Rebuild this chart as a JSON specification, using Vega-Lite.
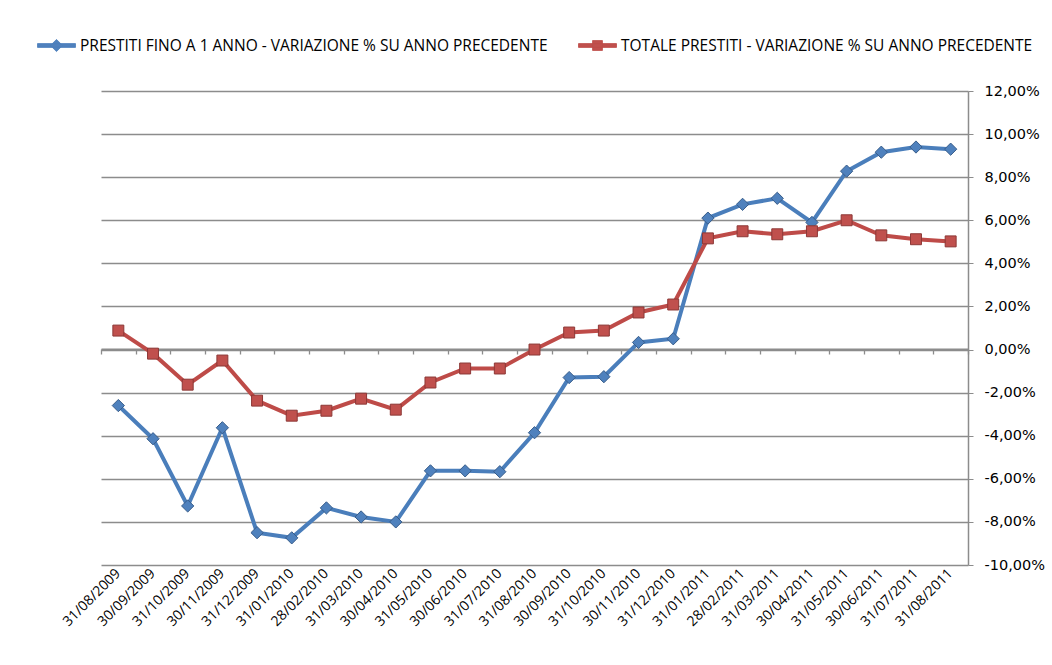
{
  "$schema": "https://vega.github.io/schema/vega-lite/v6.json",
  "width": 867,
  "height": 474,
  "autosize": {"type": "none"},
  "padding": {"left": 101, "top": 91, "right": 84, "bottom": 100},
  "background": "white",
  "config": {
    "view": {"stroke": null},
    "axis": {"labelColor": "black", "titleColor": "black"}
  },
  "datasets": {
    "main": [
      {"date": "31/08/2009", "serie": "PRESTITI FINO A 1 ANNO - VARIAZIONE % SU ANNO PRECEDENTE", "value": -2.6},
      {"date": "31/08/2009", "serie": "TOTALE PRESTITI - VARIAZIONE % SU ANNO PRECEDENTE", "value": 0.88},
      {"date": "30/09/2009", "serie": "PRESTITI FINO A 1 ANNO - VARIAZIONE % SU ANNO PRECEDENTE", "value": -4.14},
      {"date": "30/09/2009", "serie": "TOTALE PRESTITI - VARIAZIONE % SU ANNO PRECEDENTE", "value": -0.19},
      {"date": "31/10/2009", "serie": "PRESTITI FINO A 1 ANNO - VARIAZIONE % SU ANNO PRECEDENTE", "value": -7.26},
      {"date": "31/10/2009", "serie": "TOTALE PRESTITI - VARIAZIONE % SU ANNO PRECEDENTE", "value": -1.63},
      {"date": "30/11/2009", "serie": "PRESTITI FINO A 1 ANNO - VARIAZIONE % SU ANNO PRECEDENTE", "value": -3.63},
      {"date": "30/11/2009", "serie": "TOTALE PRESTITI - VARIAZIONE % SU ANNO PRECEDENTE", "value": -0.51},
      {"date": "31/12/2009", "serie": "PRESTITI FINO A 1 ANNO - VARIAZIONE % SU ANNO PRECEDENTE", "value": -8.5},
      {"date": "31/12/2009", "serie": "TOTALE PRESTITI - VARIAZIONE % SU ANNO PRECEDENTE", "value": -2.37},
      {"date": "31/01/2010", "serie": "PRESTITI FINO A 1 ANNO - VARIAZIONE % SU ANNO PRECEDENTE", "value": -8.74},
      {"date": "31/01/2010", "serie": "TOTALE PRESTITI - VARIAZIONE % SU ANNO PRECEDENTE", "value": -3.07},
      {"date": "28/02/2010", "serie": "PRESTITI FINO A 1 ANNO - VARIAZIONE % SU ANNO PRECEDENTE", "value": -7.35},
      {"date": "28/02/2010", "serie": "TOTALE PRESTITI - VARIAZIONE % SU ANNO PRECEDENTE", "value": -2.84},
      {"date": "31/03/2010", "serie": "PRESTITI FINO A 1 ANNO - VARIAZIONE % SU ANNO PRECEDENTE", "value": -7.77},
      {"date": "31/03/2010", "serie": "TOTALE PRESTITI - VARIAZIONE % SU ANNO PRECEDENTE", "value": -2.28},
      {"date": "30/04/2010", "serie": "PRESTITI FINO A 1 ANNO - VARIAZIONE % SU ANNO PRECEDENTE", "value": -8.0},
      {"date": "30/04/2010", "serie": "TOTALE PRESTITI - VARIAZIONE % SU ANNO PRECEDENTE", "value": -2.79},
      {"date": "31/05/2010", "serie": "PRESTITI FINO A 1 ANNO - VARIAZIONE % SU ANNO PRECEDENTE", "value": -5.63},
      {"date": "31/05/2010", "serie": "TOTALE PRESTITI - VARIAZIONE % SU ANNO PRECEDENTE", "value": -1.53},
      {"date": "30/06/2010", "serie": "PRESTITI FINO A 1 ANNO - VARIAZIONE % SU ANNO PRECEDENTE", "value": -5.63},
      {"date": "30/06/2010", "serie": "TOTALE PRESTITI - VARIAZIONE % SU ANNO PRECEDENTE", "value": -0.88},
      {"date": "31/07/2010", "serie": "PRESTITI FINO A 1 ANNO - VARIAZIONE % SU ANNO PRECEDENTE", "value": -5.67},
      {"date": "31/07/2010", "serie": "TOTALE PRESTITI - VARIAZIONE % SU ANNO PRECEDENTE", "value": -0.88},
      {"date": "31/08/2010", "serie": "PRESTITI FINO A 1 ANNO - VARIAZIONE % SU ANNO PRECEDENTE", "value": -3.86},
      {"date": "31/08/2010", "serie": "TOTALE PRESTITI - VARIAZIONE % SU ANNO PRECEDENTE", "value": 0.0},
      {"date": "30/09/2010", "serie": "PRESTITI FINO A 1 ANNO - VARIAZIONE % SU ANNO PRECEDENTE", "value": -1.3},
      {"date": "30/09/2010", "serie": "TOTALE PRESTITI - VARIAZIONE % SU ANNO PRECEDENTE", "value": 0.79},
      {"date": "31/10/2010", "serie": "PRESTITI FINO A 1 ANNO - VARIAZIONE % SU ANNO PRECEDENTE", "value": -1.26},
      {"date": "31/10/2010", "serie": "TOTALE PRESTITI - VARIAZIONE % SU ANNO PRECEDENTE", "value": 0.88},
      {"date": "30/11/2010", "serie": "PRESTITI FINO A 1 ANNO - VARIAZIONE % SU ANNO PRECEDENTE", "value": 0.33},
      {"date": "30/11/2010", "serie": "TOTALE PRESTITI - VARIAZIONE % SU ANNO PRECEDENTE", "value": 1.72},
      {"date": "31/12/2010", "serie": "PRESTITI FINO A 1 ANNO - VARIAZIONE % SU ANNO PRECEDENTE", "value": 0.5},
      {"date": "31/12/2010", "serie": "TOTALE PRESTITI - VARIAZIONE % SU ANNO PRECEDENTE", "value": 2.09},
      {"date": "31/01/2011", "serie": "PRESTITI FINO A 1 ANNO - VARIAZIONE % SU ANNO PRECEDENTE", "value": 6.1},
      {"date": "31/01/2011", "serie": "TOTALE PRESTITI - VARIAZIONE % SU ANNO PRECEDENTE", "value": 5.16},
      {"date": "28/02/2011", "serie": "PRESTITI FINO A 1 ANNO - VARIAZIONE % SU ANNO PRECEDENTE", "value": 6.74},
      {"date": "28/02/2011", "serie": "TOTALE PRESTITI - VARIAZIONE % SU ANNO PRECEDENTE", "value": 5.49},
      {"date": "31/03/2011", "serie": "PRESTITI FINO A 1 ANNO - VARIAZIONE % SU ANNO PRECEDENTE", "value": 7.02},
      {"date": "31/03/2011", "serie": "TOTALE PRESTITI - VARIAZIONE % SU ANNO PRECEDENTE", "value": 5.35},
      {"date": "30/04/2011", "serie": "PRESTITI FINO A 1 ANNO - VARIAZIONE % SU ANNO PRECEDENTE", "value": 5.9},
      {"date": "30/04/2011", "serie": "TOTALE PRESTITI - VARIAZIONE % SU ANNO PRECEDENTE", "value": 5.49},
      {"date": "31/05/2011", "serie": "PRESTITI FINO A 1 ANNO - VARIAZIONE % SU ANNO PRECEDENTE", "value": 8.28},
      {"date": "31/05/2011", "serie": "TOTALE PRESTITI - VARIAZIONE % SU ANNO PRECEDENTE", "value": 6.0},
      {"date": "30/06/2011", "serie": "PRESTITI FINO A 1 ANNO - VARIAZIONE % SU ANNO PRECEDENTE", "value": 9.16},
      {"date": "30/06/2011", "serie": "TOTALE PRESTITI - VARIAZIONE % SU ANNO PRECEDENTE", "value": 5.3},
      {"date": "31/07/2011", "serie": "PRESTITI FINO A 1 ANNO - VARIAZIONE % SU ANNO PRECEDENTE", "value": 9.4},
      {"date": "31/07/2011", "serie": "TOTALE PRESTITI - VARIAZIONE % SU ANNO PRECEDENTE", "value": 5.12},
      {"date": "31/08/2011", "serie": "PRESTITI FINO A 1 ANNO - VARIAZIONE % SU ANNO PRECEDENTE", "value": 9.3},
      {"date": "31/08/2011", "serie": "TOTALE PRESTITI - VARIAZIONE % SU ANNO PRECEDENTE", "value": 5.02}
    ]
  },
  "data": {"name": "main"},
  "resolve": {"axis": {"x": "independent"}},
  "layer": [
    {
      "mark": {"type": "line", "strokeWidth": 4},
      "encoding": {
        "x": {
          "field": "date", "type": "ordinal", "sort": null,
          "scale": {"type": "band", "paddingInner": 0, "paddingOuter": 0},
          "axis": {
            "orient": "bottom", "title": null, "domain": false, "ticks": false, "grid": false,
            "labelAngle": -45, "labelAlign": "right", "labelBaseline": "middle",
            "labelFont": "Open Sans", "labelFontSize": 14, "labelPadding": 6
          }
        },
        "y": {
          "field": "value", "type": "quantitative",
          "scale": {"domain": [-10, 12], "nice": false, "zero": false},
          "axis": {
            "orient": "right", "title": null, "values": [-10, -8, -6, -4, -2, 0, 2, 4, 6, 8, 10, 12],
            "labelExpr": "replace(replace(format(datum.value, '.2f'), '.', ','), '\u2212', '-') + '%'",
            "grid": true, "gridColor": "#8c8c8c", "gridWidth": 1.3,
            "domain": true, "domainColor": "#8c8c8c", "domainWidth": 1.5,
            "ticks": true, "tickColor": "#8c8c8c", "tickSize": 5,
            "labelFont": "DejaVu Sans", "labelFontSize": 14.5, "labelPadding": 11
          }
        },
        "color": {
          "field": "serie", "type": "nominal",
          "scale": {"range": ["#4A7EBB", "#BE4B48"]},
          "legend": {
            "orient": "none", "legendX": -64, "legendY": -65, "direction": "horizontal",
            "title": null, "labelFont": "Open Sans", "labelFontSize": 15.5, "labelColor": "black",
            "symbolSize": 1444, "columnPadding": 28, "labelOffset": 4, "labelLimit": 700,
            "encode": {
              "symbols": {
                "update": {
                  "shape": {"signal": "indexof(datum.value, 'TOTALE') === 0 ? 'M-1,-0.1H1V0.1H-1Z M-0.26,-0.26H0.26V0.26H-0.26Z' : 'M-1,-0.1H1V0.1H-1Z M0,-0.32L0.32,0L0,0.32L-0.32,0Z'"},
                  "fill": {"signal": "indexof(datum.value, 'TOTALE') === 0 ? '#C0504D' : '#4F81BD'"},
                  "stroke": {"signal": "indexof(datum.value, 'TOTALE') === 0 ? '#8C3836' : '#385D8A'"},
                  "strokeWidth": {"value": 0.8},
                  "opacity": {"value": 1}
                }
              }
            }
          }
        }
      }
    },
    {
      "mark": {"type": "point", "filled": true, "opacity": 1, "strokeWidth": 1},
      "encoding": {
        "x": {
          "field": "date", "type": "ordinal", "sort": null,
          "scale": {"type": "band", "paddingInner": 0, "paddingOuter": 0},
          "axis": {
            "orient": "top", "title": null, "offset": -258, "labels": false, "grid": false,
            "domain": true, "domainColor": "#8c8c8c", "domainWidth": 2,
            "ticks": true, "tickBand": "extent", "tickColor": "#8c8c8c", "tickSize": -5, "tickWidth": 1.3
          }
        },
        "y": {"field": "value", "type": "quantitative"},
        "color": {"field": "serie", "type": "nominal", "legend": null},
        "fill": {
          "field": "serie", "type": "nominal", "legend": null,
          "scale": {"range": ["#4F81BD", "#C0504D"]}
        },
        "stroke": {
          "field": "serie", "type": "nominal", "legend": null,
          "scale": {"range": ["#385D8A", "#8C3836"]}
        },
        "shape": {
          "field": "serie", "type": "nominal", "legend": null,
          "scale": {"range": ["diamond", "square"]}
        },
        "size": {
          "field": "serie", "type": "nominal", "legend": null,
          "scale": {"range": [150, 120]}
        }
      }
    }
  ]
}
